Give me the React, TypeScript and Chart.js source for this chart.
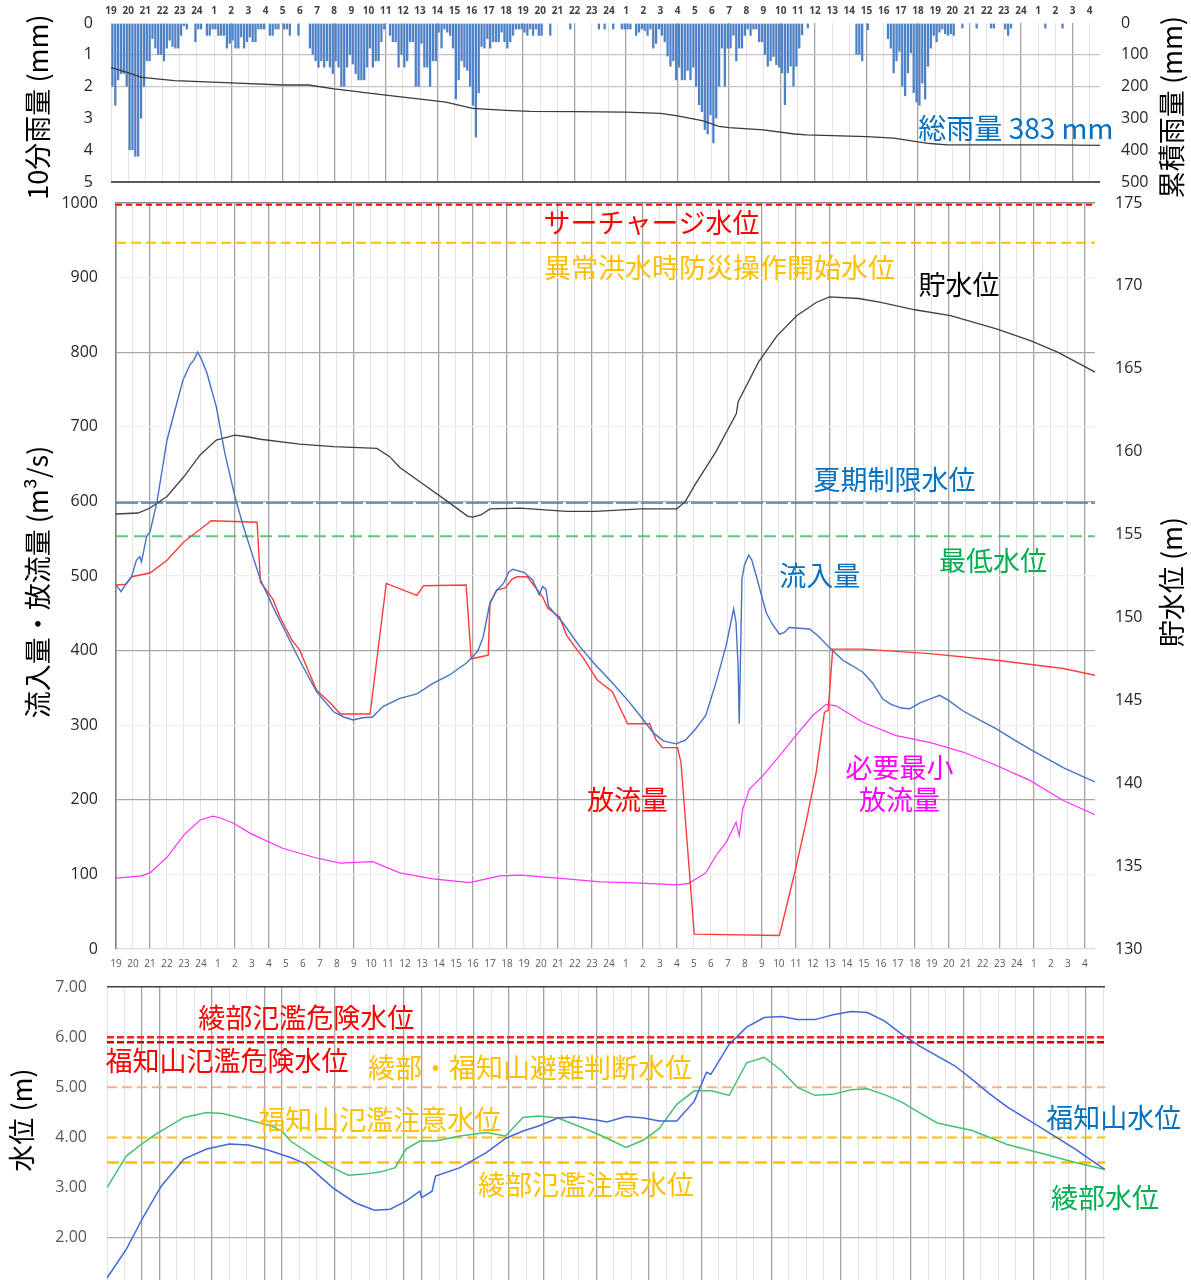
import { useEffect, useRef } from 'react';
import { Chart, registerables } from 'chart.js';

Chart.register(...registerables);

// Clock hour under each hourly gridline, starting at 19:00 on the first day.
const clockLabels = [
  19, 20, 21, 22, 23, 24,
  1, 2, 3, 4, 5, 6, 7, 8, 9, 10, 11, 12, 13, 14, 15, 16, 17, 18, 19, 20, 21, 22, 23, 24,
  1, 2, 3, 4, 5, 6, 7, 8, 9, 10, 11, 12, 13, 14, 15, 16, 17, 18, 19, 20, 21, 22, 23, 24,
  1, 2, 3, 4,
];

// 10-minute rainfall (mm), one row per hour starting 19:00.
const rain10min = [
  2.0, 2.6, 1.8, 1.6, 1.6, 2.0,
  4.0, 4.0, 4.2, 4.2, 3.0, 2.0,
  1.2, 1.2, 0.5, 0.8, 1.0, 1.0,
  1.2, 0.8, 0.55, 0.75, 0.8, 0.8,
  0.4, 0.1, 0.2, 0, 0, 0.6,
  0.2, 0.2, 0, 0.4, 0.4, 0.2,
  0.2, 0.4, 0.4, 0.4, 0.8, 0.65,
  0.55, 0.8, 0.8, 0.45, 0.8, 0.6,
  0.45, 0.6, 0.6, 0.2, 0.2, 0.2,
  0, 0.4, 0.4, 0.2, 0.2, 0,
  0.2, 0.2, 0.4, 0, 0, 0.4,
  0, 0, 0, 0.8, 1.0, 1.2,
  1.4, 1.2, 1.4, 1.2, 1.4, 1.6,
  1.2, 1.4, 2.0, 2.0, 1.4, 1.0,
  1.3, 1.6, 1.8, 1.8, 1.8, 1.4,
  0.8, 1.4, 1.2, 1.2, 0.6, 0.2,
  0, 0.4, 0.6, 0.6, 1.4, 1.0,
  1.4, 1.2, 0.6, 0.6, 2.0, 2.0,
  0.65, 1.4, 1.4, 2.0, 1.2, 1.2,
  0.3, 0.8, 0.2, 0.3, 0.4, 0.8,
  2.4, 1.8, 1.2, 1.4, 1.5, 2.0,
  2.6, 3.6, 2.2, 0.75, 0.8, 0.5,
  0.8, 0.6, 0.6, 0.6, 0.3, 0.6,
  0.8, 0.6, 0.4, 0.2, 0.2, 0.2,
  0.3, 0.4, 0.2, 0.4, 0.2, 0.4,
  0.4, 0, 0, 0.4, 0, 0,
  0, 0, 0, 0, 0.2, 0,
  0, 0, 0, 0, 0, 0,
  0, 0, 0.2, 0, 0.2, 0,
  0, 0.2, 0, 0, 0.2, 0.2,
  0.2, 0.2, 0, 0.4, 0.3, 0.2,
  0.25, 0.4, 0.2, 0.8, 0.65, 0.2,
  0.4, 0.6, 1.05, 1.37, 1.2, 1.8,
  1.4, 1.8, 1.8, 1.5, 1.8, 1.4,
  2.0, 2.58, 2.8, 3.36, 3.5, 2.9,
  3.78, 3.0, 2.0, 0.8, 2.0, 0.8,
  0.8, 0.4, 1.2, 0.8, 0.8, 0.4,
  0.2, 0.4, 0.2, 0.2, 0.6, 0.6,
  1.0, 1.37, 1.2, 1.06, 1.32, 1.4,
  1.58, 2.58, 1.58, 1.37, 2.0, 1.37,
  0.8, 0.38, 0, 0.17, 0, 0,
  0, 0, 0, 0, 0, 0,
  0, 0, 0, 0, 0, 0,
  0, 0, 1.0, 1.0, 1.2, 0,
  0.22, 0, 0, 0, 0, 0,
  0, 0.5, 0.8, 1.58, 1.2, 0.9,
  2.0, 2.3, 1.58, 0.95, 2.2, 2.5,
  2.6, 1.9, 2.4, 1.37, 0.8, 0.4,
  0.6, 0.3, 0.2, 0.35, 0.4, 0.35,
  0.4, 0, 0, 0.17, 0, 0,
  0, 0, 0.17, 0, 0, 0,
  0, 0.17, 0.17, 0, 0, 0,
  0.2, 0.4, 0.17, 0, 0, 0,
  0, 0, 0, 0, 0, 0,
  0, 0, 0.17, 0, 0, 0,
  0, 0, 0.17, 0, 0, 0,
  0, 0, 0, 0, 0, 0,
  0, 0, 0, 0, 0, 0,
];

// Cumulative rainfall (mm): [hours after 19:00, total]
const cumulativeRain: [number, number][] = [
  [0, 140], [0.8, 153], [1.8, 171], [3.7, 181], [7, 188], [10, 195], [11.5, 195], [13, 207],
  [16, 227], [18.9, 245], [19.5, 249], [21, 268], [21.5, 270], [23, 275], [24.4, 278], [27, 279],
  [30, 280], [32, 284], [33, 292], [34.5, 308], [35.4, 325], [36, 329], [38, 336], [39.8, 349],
  [40.5, 352], [44, 357], [45.6, 362], [47, 374], [47.7, 379], [48.7, 383], [54.9, 383], [57.6, 385],
];

// Dam inflow (m3/s)
const inflow: [number, number][] = [
  [0, 488], [0.3, 479], [0.6, 490], [0.92, 499], [1.2, 521], [1.4, 526], [1.5, 519], [1.8, 553],
  [2.0, 559], [2.4, 598], [3.0, 682], [3.65, 738], [3.95, 763], [4.35, 783], [4.6, 790], [4.8, 800],
  [5.0, 792], [5.35, 772], [5.9, 727], [6.4, 665], [7.0, 606], [7.5, 566], [8.0, 530], [8.5, 495],
  [9.25, 458], [10.0, 424], [10.8, 387], [11.8, 345], [12.8, 318], [13.4, 311], [13.95, 307], [14.5, 310],
  [15.1, 311], [15.7, 325], [16.7, 336], [17.7, 342], [18.65, 356], [19.6, 367], [20.6, 383], [21.0, 392],
  [21.3, 400], [21.6, 418], [22.0, 464], [22.4, 481], [22.8, 490], [23.1, 505], [23.35, 509], [24.0, 505],
  [24.5, 495], [24.9, 475], [25.1, 486], [25.3, 482], [25.45, 459], [26.3, 437], [27.3, 405], [28.2, 381],
  [29.2, 357], [30.2, 331], [31.0, 308], [31.6, 290], [32.2, 279], [32.95, 275], [33.5, 280], [34.1, 295],
  [34.7, 313], [35.3, 357], [35.9, 407], [36.34, 456], [36.48, 438], [36.6, 380], [36.67, 302], [36.75, 400],
  [36.83, 496], [36.97, 514], [37.22, 528], [37.4, 522], [37.66, 501], [38.25, 451], [38.6, 436], [39.03, 422],
  [39.3, 424], [39.62, 431], [40.2, 430], [40.8, 429], [41.3, 420], [41.98, 404], [42.76, 387], [43.3, 380],
  [43.94, 371], [44.5, 357], [45.12, 335], [45.6, 328], [46.2, 323], [46.7, 322], [47.3, 330], [47.87, 335],
  [48.46, 340], [49.0, 333], [49.84, 319], [50.8, 307], [51.8, 295], [52.8, 281], [53.77, 268], [54.8, 255],
  [55.73, 243], [56.7, 233], [57.6, 224],
];

// Dam outflow (m3/s)
const outflow: [number, number][] = [
  [0, 488], [0.6, 489], [0.92, 499], [2.0, 504], [3.0, 521], [4.0, 546], [4.75, 559], [5.6, 574],
  [7.0, 573], [8.3, 572], [8.5, 492], [9.25, 468], [9.65, 445], [10.35, 414], [10.8, 401], [11.3, 374],
  [11.8, 347], [12.6, 330], [13.2, 315], [14.95, 315], [15.9, 490], [17.7, 474], [18.1, 487], [20.6, 488],
  [20.9, 389], [21.9, 394], [22.0, 463], [22.4, 481], [22.9, 484], [23.3, 496], [23.6, 499], [24.2, 499],
  [25.1, 472], [25.4, 457], [26.1, 445], [26.5, 421], [26.9, 408], [27.5, 390], [28.3, 361], [29.2, 345],
  [30.1, 302], [31.4, 302], [31.76, 281], [32.15, 270], [33.04, 270], [33.24, 250], [34.02, 20], [39.03, 18],
  [39.6, 71], [40.0, 109], [40.6, 170], [41.2, 237], [41.68, 317], [41.9, 320], [42.17, 402], [43.94, 402],
  [47.87, 396], [51.8, 387], [55.73, 376], [57.6, 367],
];

// Required minimum release (m3/s)
const minRelease: [number, number][] = [
  [0, 95], [1.5, 98], [2.0, 102], [3.0, 123], [4.0, 153], [4.95, 173], [5.7, 178], [6.1, 176],
  [6.9, 169], [7.9, 155], [9.8, 135], [11.8, 122], [13.2, 115], [15.1, 117], [16.7, 102], [18.65, 94],
  [20.8, 89], [22.6, 98], [23.8, 99], [26.5, 94], [28.5, 90], [30.2, 89], [32.15, 87], [32.95, 86],
  [33.7, 88], [34.7, 102], [35.3, 125], [35.9, 143], [36.48, 170], [36.67, 152], [36.87, 187], [37.26, 214],
  [38.05, 232], [39.03, 259], [40.0, 286], [40.99, 313], [41.78, 328], [42.37, 326], [43.94, 304], [45.9, 286],
  [47.87, 277], [49.84, 264], [51.8, 246], [53.77, 226], [55.73, 199], [57.6, 180],
];

// Reservoir water level (m)
const reservoirLevel: [number, number][] = [
  [0, 156.24], [1.3, 156.3], [2.0, 156.6], [3.0, 157.3], [4.0, 158.5], [4.95, 159.8], [5.9, 160.7], [7.0, 161.0],
  [7.7, 160.9], [8.5, 160.75], [10.8, 160.46], [12.8, 160.3], [15.35, 160.2], [16.1, 159.7], [16.7, 159.05], [18.0, 158.1],
  [19.5, 157.0], [20.7, 156.1], [21.0, 156.05], [21.5, 156.2], [22.0, 156.55], [23.8, 156.6], [26.5, 156.4], [28.2, 156.4],
  [30.9, 156.55], [33.0, 156.55], [33.5, 157.0], [34.06, 158.0], [35.3, 160.0], [36.5, 162.3], [36.6, 163.0], [37.8, 165.4],
  [38.9, 167.0], [40.05, 168.2], [41.2, 169.0], [41.97, 169.34], [43.7, 169.24], [45.0, 169.0], [47.0, 168.56], [49.1, 168.2],
  [51.8, 167.4], [53.8, 166.7], [55.4, 166.0], [57.6, 164.8],
];

// Reservoir reference levels (m)
const surchargeLevel = 174.9;
const floodOperationLevel = 172.6;
const summerLimitLevel = 156.9;
const minimumLevel = 154.9;

// River stage at Fukuchiyama and Ayabe (m)
const fukuchiyamaStage: [number, number][] = [
  [0, 1.2], [1.1, 1.77], [2.1, 2.43], [3.1, 3.03], [4.4, 3.57], [5.7, 3.77], [7.0, 3.87], [8.1, 3.85],
  [9.2, 3.75], [10.5, 3.6], [11.4, 3.47], [12.9, 3.0], [14.2, 2.7], [15.3, 2.55], [16.2, 2.57], [17.1, 2.73],
  [17.9, 2.93], [18.0, 2.8], [18.6, 2.93], [18.8, 3.23], [20.2, 3.4], [21.7, 3.7], [22.8, 3.98], [23.8, 4.13],
  [24.7, 4.23], [25.8, 4.39], [26.7, 4.41], [28.0, 4.35], [28.6, 4.31], [29.7, 4.42], [30.7, 4.39], [31.6, 4.33],
  [32.6, 4.33], [33.6, 4.72], [34.3, 5.3], [34.55, 5.26], [35.6, 5.86], [36.6, 6.2], [37.6, 6.39], [38.6, 6.41],
  [39.5, 6.35], [40.5, 6.35], [41.6, 6.45], [42.6, 6.51], [43.5, 6.49], [44.5, 6.32], [45.5, 6.05], [46.5, 5.82],
  [48.5, 5.43], [49.5, 5.16], [50.5, 4.87], [51.5, 4.61], [53.5, 4.18], [55.4, 3.77], [57.1, 3.36],
];
const ayabeStage: [number, number][] = [
  [0, 3.0], [1.1, 3.63], [2.1, 3.9], [2.9, 4.09], [3.3, 4.17], [4.4, 4.4], [5.7, 4.5], [6.6, 4.48],
  [7.9, 4.37], [9.4, 4.23], [10.0, 4.13], [10.5, 3.93], [11.8, 3.63], [12.9, 3.4], [13.8, 3.25], [14.7, 3.27],
  [15.6, 3.31], [16.5, 3.4], [17.1, 3.77], [17.9, 3.93], [18.8, 3.93], [20.2, 4.03], [21.7, 4.1], [22.8, 4.03],
  [23.8, 4.4], [24.7, 4.43], [25.8, 4.39], [27.4, 4.17], [28.2, 4.05], [29.7, 3.8], [30.7, 3.95], [31.6, 4.18],
  [32.6, 4.66], [33.6, 4.93], [34.6, 4.93], [35.6, 4.84], [36.6, 5.49], [37.6, 5.6], [38.6, 5.33], [39.5, 5.0],
  [40.5, 4.84], [41.5, 4.86], [42.6, 4.95], [43.5, 4.97], [44.6, 4.84], [45.5, 4.7], [46.6, 4.47], [47.5, 4.29],
  [49.5, 4.14], [50.5, 4.0], [51.5, 3.86], [53.5, 3.68], [55.4, 3.5], [57.1, 3.36],
];

// River warning stages (m)
const ayabeDangerStage = 6.0;
const fukuchiyamaDangerStage = 5.9;
const evacuationStage = 5.0;
const fukuchiyamaCautionStage = 4.0;
const ayabeCautionStage = 3.5;

// Hours whose gridline is drawn darker in each panel
const rainDarkHours = [7, 10, 13, 16, 19, 24, 27, 30, 33, 36, 39, 41, 44, 47, 50, 53, 56];
const flowDarkHours = [2, 7, 9, 12, 14, 19, 21, 23, 26, 28, 31, 33, 38, 40, 42, 47, 49, 52, 54, 57];
const stageDarkHours = [2, 3, 6, 9, 10, 13, 17, 18, 21, 23, 25, 28, 31, 34, 38, 42, 46, 49, 53, 56];

const CJK = '"Noto Sans CJK JP", "Noto Sans", sans-serif';
const LATIN = '"Open Sans", "Noto Sans", sans-serif';
const PAGE_W = 1191;

const pts = (arr: [number, number][]) => arr.map(([x, y]) => ({ x, y }));
const flat = (v: number, x0: number, x1: number) => [{ x: x0, y: v }, { x: x1, y: v }];

const hourTicks = (scale: any) => {
  scale.ticks = clockLabels.map((_, i) => ({ value: i }));
};
const clockText = (v: any) => String(clockLabels[Number(v)] ?? '');

// Fix an axis box to an exact size and drop the edge padding Chart.js reserves for labels,
// so the plot area lands exactly where the layout wants it.
const fixWidth = (w: number) => (s: any) => {
  s.width = w;
  s.paddingTop = 0;
  s.paddingBottom = 0;
};
const fixHeight = (h: number) => (s: any) => {
  s.height = h;
  s.paddingLeft = 0;
  s.paddingRight = 0;
};

const hourGrid = (dark: number[]) => ({
  color: (c: any) => (dark.includes(c.tick?.value) ? '#a3a3a3' : '#e3e3e3'),
  lineWidth: (c: any) => (dark.includes(c.tick?.value) ? 1.3 : 1),
  drawTicks: false,
  offset: false,
});

// Draws in-plot labels (data coordinates) and rotated axis titles.
const notesPlugin = {
  id: 'notes',
  afterDraw(chart: any, _args: any, opts: any) {
    const { ctx } = chart;
    ctx.save();
    ctx.textAlign = 'center';
    ctx.textBaseline = 'middle';
    for (const n of opts.labels ?? []) {
      const xs = chart.scales.x;
      const ys = chart.scales[n.axis ?? 'y'];
      ctx.font = `${n.size ?? 27}px ${CJK}`;
      ctx.fillStyle = n.color;
      ctx.fillText(n.text, xs.getPixelForValue(n.x), ys.getPixelForValue(n.y));
    }
    for (const t of opts.titles ?? []) {
      ctx.save();
      ctx.translate(t.x, t.y);
      ctx.rotate(-Math.PI / 2);
      ctx.font = `${t.size ?? 27}px ${CJK}`;
      ctx.fillStyle = t.color ?? '#000';
      ctx.fillText(t.text, 0, 0);
      ctx.restore();
    }
    ctx.restore();
  },
};

const base = {
  animation: false,
  responsive: false,
  devicePixelRatio: 1,
  events: [],
};

const tickFont = { family: LATIN, size: 16 };

function rainConfig(): any {
  return {
    type: 'bar',
    data: {
      datasets: [
        {
          type: 'line',
          label: '累積雨量',
          data: pts(cumulativeRain),
          yAxisID: 'yR',
          borderColor: '#3a3a3a',
          borderWidth: 1.3,
          pointRadius: 0,
          order: 1,
        },
        {
          type: 'bar',
          label: '10分雨量',
          data: rain10min.map((v, i) => ({ x: (i + 0.5) / 6, y: v })),
          yAxisID: 'y',
          backgroundColor: '#4f81c7',
          barPercentage: 0.8,
          categoryPercentage: 1,
          order: 2,
        },
      ],
    },
    options: {
      ...base,
      layout: { padding: { top: 0, bottom: 33, left: 0, right: 0 } },
      plugins: {
        legend: { display: false },
        tooltip: { enabled: false },
        notes: {
          labels: [{ text: '総雨量 383 mm', x: 52.7, y: 3.3, color: '#0070c0', size: 28 }],
          titles: [
            { text: '10分雨量 (mm)', x: 38, y: 107 },
            { text: '累積雨量 (mm)', x: 1172, y: 107 },
          ],
        },
      },
      scales: {
        x: {
          type: 'linear',
          position: 'top',
          offset: false,
          min: 0,
          max: 57.6,
          afterBuildTicks: hourTicks,
          afterFit: fixHeight(23),
          ticks: {
            callback: clockText,
            autoSkip: false,
            maxRotation: 0,
            padding: 6,
            font: { family: LATIN, size: 10, weight: 'bold' },
            color: '#404040',
          },
          grid: hourGrid(rainDarkHours),
          border: { display: false },
        },
        y: {
          position: 'left',
          reverse: true,
          min: 0,
          max: 5,
          afterFit: fixWidth(111),
          ticks: { stepSize: 1, padding: 18, font: tickFont, color: '#262626' },
          grid: {
            color: (c: any) => {
              const v = c.tick?.value;
              if (v === 5) return '#595959';
              if (v === 1 || v === 2) return '#c4c4c4';
              return 'rgba(0,0,0,0)';
            },
            lineWidth: (c: any) => (c.tick?.value === 5 ? 2 : 1.2),
            drawTicks: false,
          },
          border: { display: false },
        },
        yR: {
          position: 'right',
          reverse: true,
          min: 0,
          max: 500,
          afterFit: fixWidth(PAGE_W - 1100),
          ticks: { stepSize: 100, padding: 21, font: tickFont, color: '#262626' },
          grid: { display: false, drawTicks: false },
          border: { display: false },
        },
      },
    },
    plugins: [notesPlugin],
  };
}

function line(label: string, data: any[], color: string, width: number, order: number, axis = 'y', dash: number[] = []) {
  return {
    label,
    data,
    yAxisID: axis,
    borderColor: color,
    borderWidth: width,
    borderDash: dash,
    pointRadius: 0,
    tension: 0,
    fill: false,
    order,
  };
}

function flowConfig(): any {
  const X1 = 57.6;
  return {
    type: 'line',
    data: {
      datasets: [
        line('流入量', pts(inflow), '#4472c4', 1.4, 1),
        line('放流量', pts(outflow), '#ff3b3b', 1.4, 2),
        line('貯水位', pts(reservoirLevel), '#404040', 1.3, 3, 'yR'),
        line('必要最小放流量', pts(minRelease), '#ff33ff', 1.2, 4),
        line('サーチャージ水位', flat(surchargeLevel, 0, X1), '#ff0000', 2, 10, 'yR', [6, 4]),
        line('異常洪水時防災操作開始水位', flat(floodOperationLevel, 0, X1), '#ffc000', 2, 10, 'yR', [10, 5]),
        line('夏期制限水位', flat(summerLimitLevel, 0, X1), '#4472c4', 1.6, 10, 'yR', [22, 3]),
        line('最低水位', flat(minimumLevel, 0, X1), '#5cc582', 2, 10, 'yR', [12, 6]),
      ],
    },
    options: {
      ...base,
      layout: { padding: { top: 13, bottom: 0, left: 0, right: 0 } },
      plugins: {
        legend: { display: false },
        tooltip: { enabled: false },
        notes: {
          labels: [
            { text: 'サーチャージ水位', x: 31.5, y: 974, color: '#ff0000' },
            { text: '異常洪水時防災操作開始水位', x: 35.5, y: 913, color: '#ffc000' },
            { text: '貯水位', x: 49.6, y: 890, color: '#000000' },
            { text: '夏期制限水位', x: 45.8, y: 629, color: '#0070c0' },
            { text: '最低水位', x: 51.6, y: 521, color: '#00b050' },
            { text: '流入量', x: 41.4, y: 500, color: '#0070c0' },
            { text: '必要最小', x: 46.1, y: 243, color: '#ff00ff' },
            { text: '放流量', x: 46.1, y: 200, color: '#ff00ff' },
            { text: '放流量', x: 30.1, y: 200, color: '#ff0000' },
          ],
          titles: [
            { text: '流入量・放流量 (m³/s)', x: 38, y: 392 },
            { text: '貯水位 (m)', x: 1172, y: 392 },
          ],
        },
      },
      scales: {
        x: {
          type: 'linear',
          min: 0,
          max: X1,
          afterBuildTicks: hourTicks,
          afterFit: fixHeight(31),
          ticks: {
            callback: clockText,
            autoSkip: false,
            maxRotation: 0,
            padding: 9,
            font: { family: LATIN, size: 10 },
            color: '#595959',
          },
          grid: hourGrid(flowDarkHours),
          border: { display: false },
        },
        y: {
          position: 'left',
          min: 0,
          max: 1000,
          afterFit: fixWidth(116),
          ticks: { stepSize: 100, padding: 18, font: tickFont, color: '#262626', callback: (v: any) => String(v) },
          grid: {
            color: (c: any) => {
              const v = c.tick?.value;
              if (v === 1000) return '#8c8c8c';
              if (v === 0) return '#d9d9d9';
              if (v % 200 === 0) return '#a6a6a6';
              return '#f0f0f0';
            },
            lineWidth: (c: any) => (c.tick?.value === 1000 ? 1.6 : 1.2),
            drawTicks: false,
          },
          border: { display: true, color: '#7f7f7f', width: 1.5 },
        },
        yR: {
          position: 'right',
          min: 130,
          max: 175,
          afterFit: fixWidth(PAGE_W - 1095),
          ticks: { stepSize: 5, padding: 20, font: tickFont, color: '#262626', callback: (v: any) => String(v) },
          grid: { display: false, drawTicks: false },
          border: { display: false },
        },
      },
    },
    plugins: [notesPlugin],
  };
}

function stageConfig(): any {
  const X1 = 57.1;
  return {
    type: 'line',
    data: {
      datasets: [
        line('福知山水位', pts(fukuchiyamaStage), '#4466dd', 1.5, 1),
        line('綾部水位', pts(ayabeStage), '#45c075', 1.5, 2),
        line('綾部氾濫危険水位', flat(ayabeDangerStage, 0, X1), '#ff2020', 2.5, 10, 'y', [7, 3]),
        line('福知山氾濫危険水位', flat(fukuchiyamaDangerStage, 0, X1), '#cc0000', 2.5, 10, 'y', [7, 3]),
        line('綾部・福知山避難判断水位', flat(evacuationStage, 0, X1), '#f4b183', 2, 10, 'y', [10, 5]),
        line('福知山氾濫注意水位', flat(fukuchiyamaCautionStage, 0, X1), '#ffc000', 2, 10, 'y', [10, 5]),
        line('綾部氾濫注意水位', flat(ayabeCautionStage, 0, X1), '#ffc000', 2.5, 10, 'y', [12, 6]),
      ],
    },
    options: {
      ...base,
      layout: { padding: { top: 12, bottom: 17, left: 0, right: PAGE_W - 1105 } },
      plugins: {
        legend: { display: false },
        tooltip: { enabled: false },
        notes: {
          labels: [
            { text: '綾部氾濫危険水位', x: 11.4, y: 6.38, color: '#ff0000' },
            { text: '福知山氾濫危険水位', x: 6.86, y: 5.53, color: '#ff0000' },
            { text: '綾部・福知山避難判断水位', x: 24.2, y: 5.39, color: '#ffc000' },
            { text: '福知山氾濫注意水位', x: 15.6, y: 4.35, color: '#ffc000' },
            { text: '綾部氾濫注意水位', x: 27.4, y: 3.06, color: '#ffc000' },
            { text: '福知山水位', x: 57.6, y: 4.39, color: '#0070c0' },
            { text: '綾部水位', x: 57.1, y: 2.8, color: '#00b050' },
          ],
          titles: [{ text: '水位 (m)', x: 22, y: 145 }],
        },
      },
      scales: {
        x: {
          type: 'linear',
          min: 0,
          max: X1,
          afterBuildTicks: hourTicks,
          afterFit: fixHeight(0),
          ticks: { display: false },
          grid: hourGrid(stageDarkHours),
          border: { display: false },
        },
        y: {
          position: 'left',
          min: 1,
          max: 7,
          afterFit: fixWidth(107),
          ticks: {
            stepSize: 1,
            padding: 20,
            callback: (v: any) => Number(v).toFixed(2),
            font: tickFont,
            color: '#595959',
          },
          grid: {
            color: (c: any) => {
              const v = c.tick?.value;
              if (v === 7) return '#404040';
              if (v === 2) return '#b0b0b0';
              return 'rgba(0,0,0,0)';
            },
            lineWidth: (c: any) => (c.tick?.value === 7 ? 1.6 : 1.2),
            drawTicks: false,
          },
          border: { display: false },
        },
      },
    },
    plugins: [notesPlugin],
  };
}

function Panel({ top, height, build }: { top: number; height: number; build: () => any }) {
  const ref = useRef<HTMLCanvasElement>(null);
  useEffect(() => {
    const chart = new Chart(ref.current as HTMLCanvasElement, build());
    return () => chart.destroy();
  }, [build]);
  return (
    <canvas
      ref={ref}
      width={PAGE_W}
      height={height}
      style={{ position: 'absolute', left: 0, top, width: PAGE_W, height, display: 'block' }}
    />
  );
}

export default function App() {
  return (
    <div
      style={{
        position: 'absolute',
        left: 0,
        top: 0,
        width: PAGE_W,
        height: 1280,
        overflow: 'hidden',
        background: '#ffffff',
      }}
    >
      <Panel top={0} height={215} build={rainConfig} />
      <Panel top={190} height={790} build={flowConfig} />
      <Panel top={975} height={330} build={stageConfig} />
    </div>
  );
}
